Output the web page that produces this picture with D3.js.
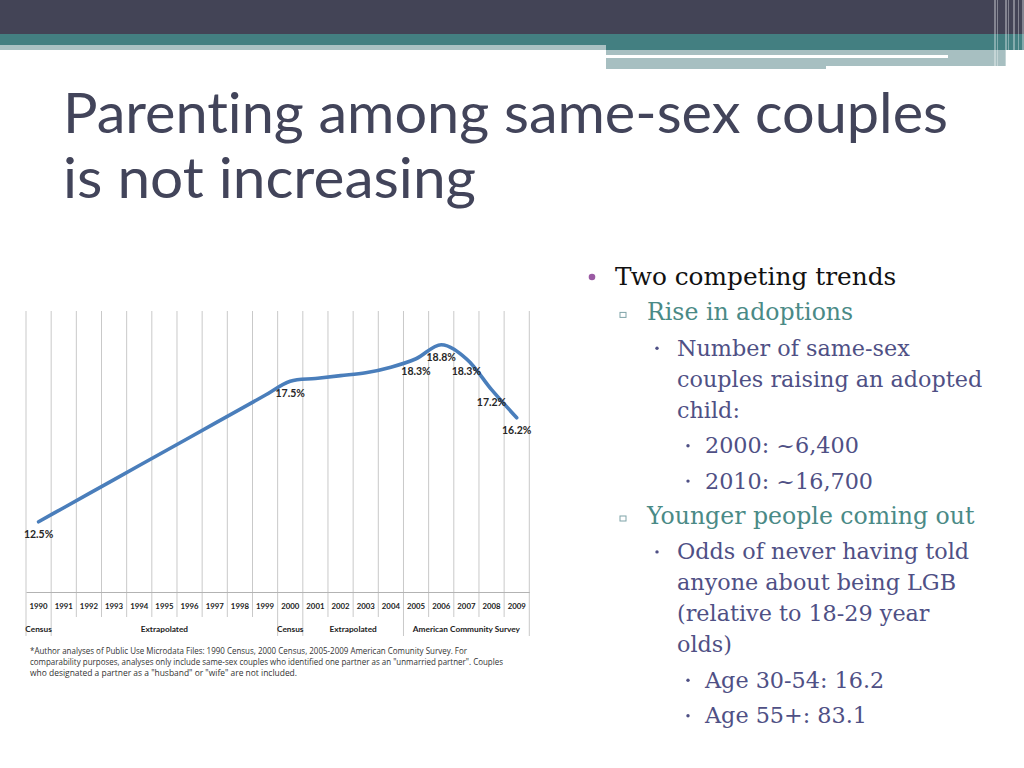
<!DOCTYPE html>
<html lang='en'>
<head>
  <meta charset='UTF-8'>
  <title>Parenting among same-sex couples</title>
  <script src='https://d3js.org/d3.v7.min.js'></script>
  <style>
    body { margin: 0; background: #fff; }
    svg { display: block; }
    text { font-variant-ligatures: none; }
  </style>
</head>
<body>
  <svg width='1024' height='768'></svg>

  <script>
    // chart data
    var years = ['1990', '1991', '1992', '1993', '1994', '1995', '1996', '1997', '1998', '1999',
                 '2000', '2001', '2002', '2003', '2004', '2005', '2006', '2007', '2008', '2009'];
    var shares = [12.5, 13.0, 13.5, 14.0, 14.5, 15.0, 15.5, 16.0, 16.5, 17.0,
                  17.5, 17.6, 17.7, 17.8, 18.0, 18.3, 18.8, 18.3, 17.2, 16.2];
    var labelledYears = ['1990', '2000', '2005', '2006', '2007', '2008', '2009'];

    var sourceNames = ['Census', 'Extrapolated', 'Census', 'Extrapolated', 'American Community Survey'];
    var sourceFirst = ['1990', '1991', '2000', '2001', '2005'];
    var sourceLast  = ['1990', '1999', '2000', '2004', '2009'];

    var titleLines = ['Parenting among same-sex couples', 'is not increasing'];
    var footnoteLines = [
      '*Author analyses of Public Use Microdata Files: 1990 Census, 2000 Census, 2005-2009 American Comunity Survey.  For',
      'comparability purposes, analyses only include same-sex couples who identified one partner as an "unmarried partner".  Couples',
      'who designated a partner as a "husband"  or  "wife" are not included.'
    ];

    var bulletLevels = [1, 2, 3, 4, 4, 2, 3, 4, 4];
    var bulletLines = [
      ['Two competing trends'],
      ['Rise in adoptions'],
      ['Number of same-sex', 'couples raising an adopted', 'child:'],
      ['2000: ~6,400'],
      ['2010: ~16,700'],
      ['Younger people coming out'],
      ['Odds of never having told', 'anyone about being LGB', '(relative to 18-29 year', 'olds)'],
      ['Age 30-54: 16.2'],
      ['Age 55+: 83.1']
    ];

    var svg = d3.select('svg');

    // ---- slide header bands ----
    var head = svg.append('g');
    head.append('rect').attr('x', 0).attr('y', 0).attr('width', 1024).attr('height', 34).attr('fill', '#434456');
    head.append('rect').attr('x', 0).attr('y', 34).attr('width', 1024).attr('height', 11).attr('fill', '#437f81');
    head.append('rect').attr('x', 0).attr('y', 45).attr('width', 606).attr('height', 5).attr('fill', '#aac1c3');
    head.append('rect').attr('x', 606).attr('y', 45).attr('width', 418).attr('height', 5).attr('fill', '#437f81');
    head.append('rect').attr('x', 606).attr('y', 50).attr('width', 400).attr('height', 16).attr('fill', '#a7bfc1');
    head.append('rect').attr('x', 606).attr('y', 55).attr('width', 342).attr('height', 3).attr('fill', '#ffffff');
    head.append('rect').attr('x', 606).attr('y', 66).attr('width', 220).attr('height', 3).attr('fill', '#a7bfc1');
    [994, 997, 1005, 1008, 1013, 1018, 1022].forEach(function(px, i) {
      head.append('rect').attr('x', px).attr('y', 0).attr('width', i % 2 ? 1 : 2).attr('height', 68)
        .attr('fill', '#ffffff').attr('opacity', 0.35);
    });

    // ---- title ----
    svg.append('g').selectAll('text').data(titleLines).enter().append('text')
      .attr('x', 63)
      .attr('y', (d, i) => 133 + i * 65)
      .attr('font-family', 'Lato, "Open Sans", sans-serif')
      .attr('font-size', 57)
      .attr('fill', '#42445a')
      .attr('textLength', (d, i) => i === 0 ? 885 : 413)
      .attr('lengthAdjust', 'spacingAndGlyphs')
      .text(d => d);

    // ---- chart ----
    var x = d3.scaleBand().domain(years).range([26, 529.3]);
    var y = d3.scaleLinear().domain([10, 20]).range([592, 311]);
    var cx = d => x(d) + x.bandwidth() / 2;
    var g = svg.append('g');

    var bounds = years.map(d => x(d)).concat([x.range()[1]]);
    g.selectAll('line.grid').data(bounds).enter().append('line')
      .attr('class', 'grid')
      .attr('x1', d => d).attr('x2', d => d)
      .attr('y1', y(20)).attr('y2', 617)
      .attr('stroke', '#c9c9c9').attr('stroke-width', 1);

    var groupBounds = sourceFirst.map(d => x(d)).concat([x.range()[1]]);
    g.selectAll('line.group').data(groupBounds).enter().append('line')
      .attr('class', 'group')
      .attr('x1', d => d).attr('x2', d => d)
      .attr('y1', 617).attr('y2', 636)
      .attr('stroke', '#c9c9c9').attr('stroke-width', 1);

    var xAxis = g.append('g')
      .attr('transform', 'translate(0,' + y(10) + ')')
      .call(d3.axisBottom(x).tickSize(0).tickSizeOuter(0).tickPadding(11.5));
    xAxis.select('.domain').attr('stroke', '#b3b3b3');
    xAxis.selectAll('text')
      .attr('font-family', 'Lato, "Open Sans", sans-serif')
      .attr('font-size', 7.8)
      .attr('font-weight', 'bold')
      .attr('fill', '#222');

    g.selectAll('text.source').data(sourceNames).enter().append('text')
      .attr('class', 'source')
      .attr('x', (d, i) => (x(sourceFirst[i]) + x(sourceLast[i]) + x.bandwidth()) / 2)
      .attr('y', 632)
      .attr('text-anchor', 'middle')
      .attr('font-family', 'Lato, "Open Sans", sans-serif')
      .attr('font-size', 8.3)
      .attr('font-weight', 'bold')
      .attr('fill', '#222')
      .text(d => d);

    var line = d3.line()
      .x((d, i) => cx(years[i]))
      .y(d => y(d))
      .curve(d3.curveCatmullRom.alpha(0.5));

    g.append('path')
      .datum(shares)
      .attr('fill', 'none')
      .attr('stroke', '#4a7ebb')
      .attr('stroke-width', 3.6)
      .attr('stroke-linejoin', 'round')
      .attr('stroke-linecap', 'round')
      .attr('d', line);

    g.selectAll('text.val').data(labelledYears).enter().append('text')
      .attr('class', 'val')
      .attr('x', d => cx(d))
      .attr('y', d => y(shares[years.indexOf(d)]) + 16)
      .attr('text-anchor', 'middle')
      .attr('font-family', 'Lato, "Open Sans", sans-serif')
      .attr('font-size', 10.5)
      .attr('font-weight', 'bold')
      .attr('fill', '#262626')
      .text(d => shares[years.indexOf(d)].toFixed(1) + '%');

    var footWidths = [437, 473, 267];
    svg.append('g').selectAll('text').data(footnoteLines).enter().append('text')
      .attr('x', 30)
      .attr('y', (d, i) => 654 + i * 10.8)
      .attr('font-family', '"Open Sans", sans-serif')
      .attr('font-size', 8.2)
      .attr('fill', '#333')
      .attr('textLength', (d, i) => footWidths[i])
      .attr('lengthAdjust', 'spacingAndGlyphs')
      .text(d => d);

    // ---- bullet list ----
    var lvl = {
      1: {bx: 592, tx: 615, size: 24.8, color: '#111111', bullet: '#9a5aa3'},
      2: {bx: 623, tx: 647, size: 23.6, color: '#4a8a86', bullet: '#7fa3a8'},
      3: {bx: 657, tx: 677, size: 22.3, color: '#4f5085', bullet: '#4f5085'},
      4: {bx: 688, tx: 705, size: 22.3, color: '#4f5085', bullet: '#4f5085'}
    };
    var list = svg.append('g');
    var base = 285;
    bulletLines.forEach(function(lines, k) {
      var L = lvl[bulletLevels[k]];
      if (k > 0) base += 35.4;
      if (bulletLevels[k] === 1) {
        list.append('circle').attr('cx', L.bx).attr('cy', base - 8).attr('r', 3.3).attr('fill', L.bullet);
      } else if (bulletLevels[k] === 2) {
        list.append('rect').attr('x', L.bx - 3).attr('y', base - 8).attr('width', 6).attr('height', 5)
          .attr('fill', 'none').attr('stroke', L.bullet).attr('stroke-width', 1);
      } else {
        list.append('circle').attr('cx', L.bx).attr('cy', base - 7.5).attr('r', 1.7).attr('fill', L.bullet);
      }
      lines.forEach(function(t, j) {
        if (j > 0) base += 31;
        list.append('text')
          .attr('x', L.tx).attr('y', base)
          .attr('font-family', '"DejaVu Serif", serif')
          .attr('font-size', L.size)
          .attr('fill', L.color)
          .text(t);
      });
    });
  </script>
</body>
</html>
